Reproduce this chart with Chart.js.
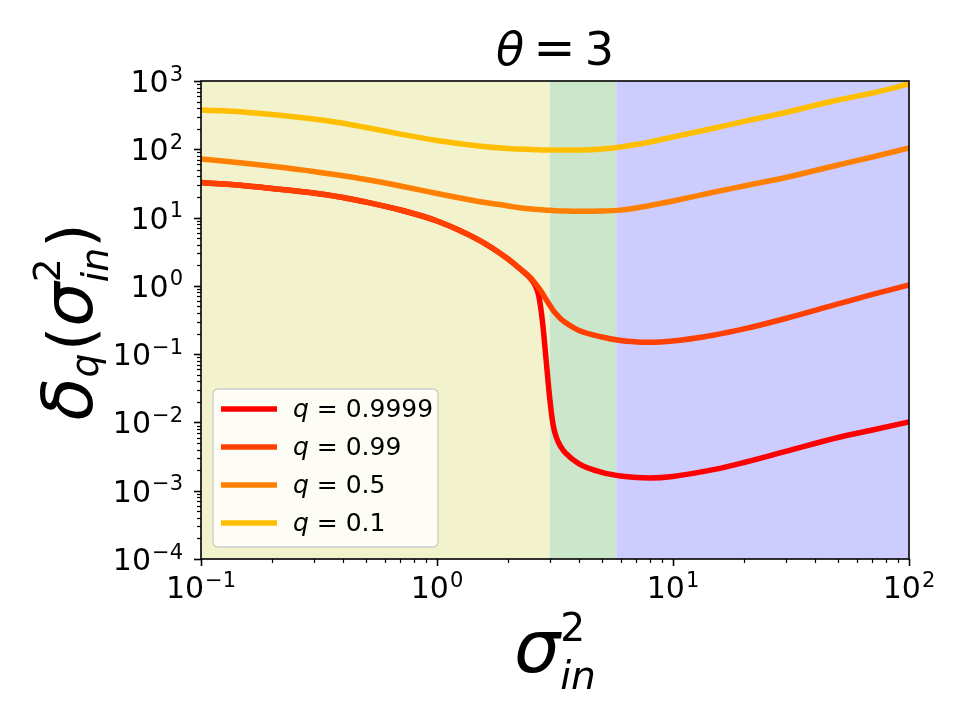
<!DOCTYPE html>
<html>
<head>
<script src="https://cdn.jsdelivr.net/npm/chart.js"></script>
<style>body { margin: 0; background: #fff; }</style>
</head>
<body>
<canvas id="deltaChart" width="960" height="720"></canvas>
<script>
// sigma_in^2 sample points, denser around the drop near theta = 3
const sigmaIn = [0.1, 0.15, 0.2, 0.3, 0.4, 0.5, 0.7, 1, 1.5, 2, 2.2, 2.5, 2.6, 2.7, 2.8, 2.9, 3.0, 3.1, 3.2, 3.35, 3.5, 4, 5, 6, 7, 8, 10, 15, 20, 30, 50, 70, 100];

// delta_q values
const deltaQ9999 = [32.6, 29.5, 26.7, 22.9, 19.7, 16.9, 12.9, 8.91, 4.70, 2.47, 1.89, 1.26, 1.03, 0.711, 0.296, 0.0821, 0.0236, 0.0095, 0.00612, 0.00437, 0.00357, 0.00247, 0.00185, 0.00164, 0.00156, 0.00154, 0.00162, 0.00205, 0.00259, 0.00376, 0.00602, 0.00775, 0.01015];
const deltaQ99 = [32.6, 29.5, 26.7, 22.9, 19.7, 16.9, 12.9, 8.91, 4.70, 2.47, 1.89, 1.30, 1.10, 0.93, 0.773, 0.631, 0.525, 0.443, 0.387, 0.327, 0.291, 0.222, 0.178, 0.158, 0.151, 0.149, 0.156, 0.191, 0.234, 0.333, 0.543, 0.748, 1.03];
const deltaQ05 = [72.1, 63.0, 56.3, 47.3, 40.9, 36.1, 29.0, 22.5, 17.2, 14.8, 14.0, 13.4, 13.2, 13.1, 12.97, 12.84, 12.75, 12.66, 12.57, 12.5, 12.44, 12.35, 12.44, 12.85, 13.8, 15.0, 17.5, 23.7, 29.0, 38.6, 58.9, 77.1, 104.4];
const deltaQ01 = [376, 352, 323, 278, 241, 208.5, 167, 134.5, 112, 102.7, 101, 99.3, 98.6, 98.3, 97.6, 97.6, 97.6, 97.6, 97.6, 97.6, 97.6, 97.6, 101, 108, 117.5, 127.9, 151.4, 205, 255, 346, 527, 667, 904];

const qLabels = ['0.9999', '0.99', '0.5', '0.1'];
const qColors = ['#ff0000', '#ff4000', '#ff8000', '#ffbf00'];

// shaded regimes along sigma_in^2
const regionEdges = [0.1, 3, 5.75, 100];
const regionColors = ['#f2f2cc', '#cce6cc', '#ccccff'];

const FONT = '"DejaVu Sans"';

function isDecade(v) {
    const e = Math.log10(v);
    return Math.abs(e - Math.round(e)) < 1e-6;
}
function isWholeMantissa(v) {
    const m = v / Math.pow(10, Math.floor(Math.log10(v) + 1e-9));
    return Math.abs(m - Math.round(m)) < 1e-6;
}
function expText(v) {
    return String(Math.round(Math.log10(v))).replace('-', '\u2212');
}

// "10" with a raised exponent, left edge at x, baseline at y
function drawPow(ctx, v, x, y) {
    ctx.font = '30px ' + FONT;
    ctx.fillText('10', x, y);
    const w = ctx.measureText('10').width;
    ctx.font = '21px ' + FONT;
    ctx.fillText(expText(v), x + w + 1, y - 11.5);
}
function powWidth(ctx, v) {
    ctx.font = '30px ' + FONT;
    const w = ctx.measureText('10').width;
    ctx.font = '21px ' + FONT;
    return w + 1 + ctx.measureText(expText(v)).width;
}

// draws a row of text pieces (italics, sub/superscripts) centred on cx
function drawMath(ctx, parts, F, cx, baseY) {
    let x = 0, prevStart = 0;
    const items = [];
    for (const p of parts) {
        const size = F * (p.s || 1);
        const font = (p.it ? 'italic ' : '') + size + 'px ' + FONT;
        ctx.font = font;
        const w = ctx.measureText(p.t).width;
        const start = p.stack ? prevStart : x + (p.gap || 0) * F;
        items.push({t: p.t, font, x: start, dy: (p.dy || 0) * F});
        prevStart = start;
        x = Math.max(x, start + w);
    }
    const left = cx - x / 2;
    ctx.textBaseline = 'alphabetic';
    ctx.textAlign = 'left';
    for (const it of items) {
        ctx.font = it.font;
        ctx.fillText(it.t, left + it.x, baseY + it.dy);
    }
}

const decorations = {
    id: 'decorations',
    beforeDatasetsDraw(chart) {
        const {ctx, chartArea: a} = chart;
        const xs = chart.scales.x;
        ctx.save();
        for (let i = 0; i < regionColors.length; i++) {
            const x0 = xs.getPixelForValue(regionEdges[i]);
            const x1 = xs.getPixelForValue(regionEdges[i + 1]);
            ctx.fillStyle = regionColors[i];
            ctx.fillRect(x0, a.top, x1 - x0, a.bottom - a.top);
        }
        ctx.restore();
    },
    afterDatasetsDraw(chart) {
        const {ctx, chartArea: a} = chart;
        const xs = chart.scales.x, ys = chart.scales.y;
        ctx.save();
        // frame
        ctx.strokeStyle = '#000';
        ctx.lineWidth = 1.6;
        ctx.strokeRect(a.left, a.top, a.right - a.left, a.bottom - a.top);

        // tick marks (major and minor, pointing out) and decade labels
        ctx.fillStyle = '#000';
        ctx.textAlign = 'left';
        ctx.textBaseline = 'alphabetic';
        for (const t of xs.ticks) {
            if (!isWholeMantissa(t.value)) continue;
            const px = xs.getPixelForValue(t.value);
            const major = isDecade(t.value);
            ctx.lineWidth = major ? 1.6 : 1.2;
            ctx.beginPath();
            ctx.moveTo(Math.round(px) + 0.5, a.bottom);
            ctx.lineTo(Math.round(px) + 0.5, a.bottom + (major ? 7 : 4));
            ctx.stroke();
            if (major) drawPow(ctx, t.value, px - powWidth(ctx, t.value) / 2, a.bottom + 39);
        }
        for (const t of ys.ticks) {
            if (!isWholeMantissa(t.value)) continue;
            const py = ys.getPixelForValue(t.value);
            const major = isDecade(t.value);
            ctx.lineWidth = major ? 1.6 : 1.2;
            ctx.beginPath();
            ctx.moveTo(a.left, Math.round(py) + 0.5);
            ctx.lineTo(a.left - (major ? 7 : 4), Math.round(py) + 0.5);
            ctx.stroke();
            if (major) drawPow(ctx, t.value, a.left - 18 - powWidth(ctx, t.value), py + 11);
        }

        // legend box, lower left
        const bx = 213, by = 389, bw = 225, bh = 158, r = 5;
        ctx.beginPath();
        ctx.moveTo(bx + r, by);
        ctx.arcTo(bx + bw, by, bx + bw, by + bh, r);
        ctx.arcTo(bx + bw, by + bh, bx, by + bh, r);
        ctx.arcTo(bx, by + bh, bx, by, r);
        ctx.arcTo(bx, by, bx + bw, by, r);
        ctx.closePath();
        ctx.fillStyle = 'rgba(255,255,255,0.8)';
        ctx.fill();
        ctx.strokeStyle = '#cccccc';
        ctx.lineWidth = 1.3;
        ctx.stroke();

        const rows = [409, 447, 485, 523];
        ctx.textBaseline = 'middle';
        qLabels.forEach((lab, i) => {
            ctx.strokeStyle = qColors[i];
            ctx.lineWidth = 5.5;
            ctx.beginPath();
            ctx.moveTo(221, rows[i]);
            ctx.lineTo(277, rows[i]);
            ctx.stroke();
            ctx.fillStyle = '#000';
            ctx.font = 'italic 25px ' + FONT;
            ctx.fillText('q', 293, rows[i] + 1);
            const qw = ctx.measureText('q').width;
            ctx.font = '25px ' + FONT;
            ctx.fillText(' = ' + lab, 293 + qw, rows[i] + 1);
        });
        ctx.restore();
    },
    afterDraw(chart) {
        const {ctx} = chart;
        ctx.save();
        ctx.fillStyle = '#000';
        // title
        drawMath(ctx, [
            {t: '\u03b8', it: true},
            {t: '=', gap: 0.2, s: 1.1},
            {t: '3', gap: 0.2}
        ], 46, 555, 65);
        // x axis label
        drawMath(ctx, [
            {t: '\u03c3', it: true, s: 1.3},
            {t: '2', s: 0.7, dy: -0.55},
            {t: 'in', it: true, s: 0.7, dy: 0.3, stack: true}
        ], 56, 555, 672);
        // y axis label, rotated
        ctx.translate(92, 322);
        ctx.rotate(-Math.PI / 2);
        drawMath(ctx, [
            {t: '\u03b4', it: true, s: 1.3},
            {t: 'q', it: true, s: 0.7, dy: 0.12},
            {t: '(', s: 1.15, gap: 0.05},
            {t: '\u03c3', it: true, s: 1.3},
            {t: '2', s: 0.7, dy: -0.6},
            {t: 'in', it: true, s: 0.7, dy: 0.3, stack: true},
            {t: ')', s: 1.15}
        ], 54, 0, 0);
        ctx.restore();
    }
};

const series = [deltaQ9999, deltaQ99, deltaQ05, deltaQ01];

new Chart(document.getElementById('deltaChart'), {
    type: 'line',
    data: {
        datasets: series.map((vals, i) => ({
            label: 'q = ' + qLabels[i],
            data: sigmaIn.map((x, j) => ({x: x, y: vals[j]})),
            borderColor: qColors[i],
            backgroundColor: qColors[i],
            borderWidth: 5.5,
            pointRadius: 0,
            fill: false,
            cubicInterpolationMode: 'monotone',
            order: series.length - i   // later q drawn on top, like the original
        }))
    },
    options: {
        responsive: false,
        animation: false,
        layout: {padding: {top: 81, right: 51, left: 0, bottom: 0}},
        scales: {
            x: {
                type: 'logarithmic',
                min: 0.1,
                max: 100,
                grid: {display: false, drawTicks: false},
                border: {display: false},
                ticks: {display: false, autoSkip: false},
                afterFit: s => { s.height = 161; }
            },
            y: {
                type: 'logarithmic',
                min: 1e-4,
                max: 1e3,
                grid: {display: false, drawTicks: false},
                border: {display: false},
                ticks: {display: false, autoSkip: false},
                afterFit: s => { s.width = 201; }
            }
        },
        plugins: {
            legend: {display: false},
            tooltip: {enabled: false}
        }
    },
    plugins: [decorations]
});
</script>
</body>
</html>
